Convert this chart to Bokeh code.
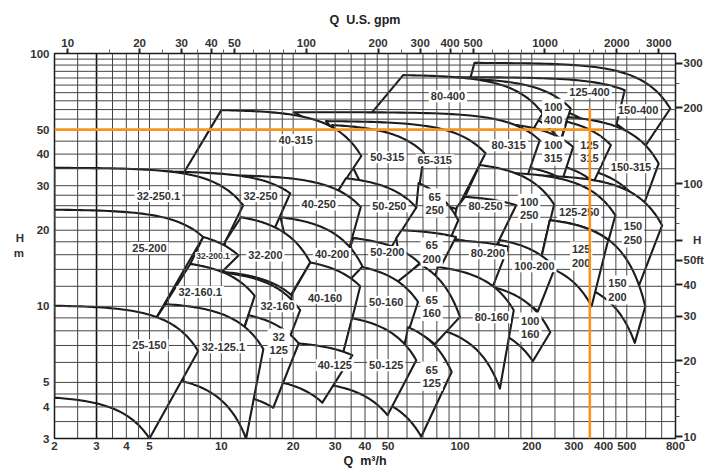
import numpy as np
from bokeh.plotting import figure
from bokeh.models import Range1d, LogScale, LogAxis, FixedTicker, PrintfTickFormatter
from bokeh.core.properties import value
from bokeh.embed import file_html
from bokeh.resources import INLINE

# ---------------------------------------------------------------------------
# Pump selection tiles (Q in m3/h, H in m).  Corners: top-left, top-right,
# bottom-right, bottom-left and an optional extra corner on the left side.
# List order = drawing order: upper families first and, inside a family,
# right to left, so the smaller pumps are painted over the larger ones.
# ---------------------------------------------------------------------------
tile_names = [
    "150-400", "125-400", "100-400", "80-400",
    "150-315", "125-315", "100-315", "80-315", "65-315", "50-315", "40-315",
    "150-250", "125-250", "100-250", "80-250", "65-250", "50-250", "40-250", "32-250", "32-250.1",
    "150-200", "125-200", "100-200", "80-200", "65-200", "50-200", "40-200", "32-200", "32-200.1", "25-200",
    "100-160", "80-160", "65-160", "50-160", "40-160", "32-160", "32-160.1",
    "65-125", "50-125", "40-125", "32-125", "32-125.1", "25-150",
]
tl_q = [115, 97.1, 116, 57.8,
        283, 280, 173, 20.1, 27.4, 29.1, 10,
        192.5, 142, 121, 105, 67.1, 33.3, 10.2, 4.74, 2,
        238, 238, 146, 86.4, 56.9, 35.7, 17.7, 12.1, 8.39, 2,
        138, 80.7, 67.8, 38.9, 23.6, 10.0, 7.41,
        60.5, 35.3, 21.1, 13.0, 5.83, 2]
tl_h = [91.8, 80.6, 79.1, 82.1,
        56.0, 53.7, 52.1, 58.6, 54.0, 52.1, 59.7,
        33.0, 33.9, 36.2, 27.1, 30.7, 32.1, 33.0, 34.2, 35.3,
        21.9, 21.9, 18.3, 18.3, 20.0, 18.6, 22.5, 22.5, 18.8, 24.1,
        11.9, 14.3, 14.7, 14.3, 14.9, 13.6, 14.7,
        8.27, 8.97, 7.13, 9.22, 10.2, 10.05]
tr_q = [761, 490, 291, 222,
        680, 429, 298, 216, 128, 70.7, 38.6,
        703, 448, 248, 172, 98.4, 65.6, 38.4, 19.45, 12.35,
        598, 418, 250, 159.5, 96.2, 67.8, 39.1, 23.6, 11.8, 8.39,
        239, 168, 100, 66.7, 38.2, 21.4, 13.8,
        92.3, 65.6, 35.4, 21.1, 15.0, 8.0]
tr_h = [60.6, 71.6, 60.6, 57.9,
        36.7, 43.4, 42.7, 45.4, 40.3, 40.4, 39.3,
        20.9, 22.9, 25.3, 25.1, 21.9, 24.6, 24.7, 28.0, 25.1,
        10.0, 18.3, 14.2, 17.2, 18.8, 14.8, 14.35, 14.9, 15.9, 18.8,
        7.89, 9.65, 9.08, 10.4, 12.0, 9.65, 11.0,
        5.5, 6.12, 6.40, 7.13, 6.77, 6.65]
br_q = [581, 426, 264, 197,
        581, 363, 269, 191.5, 97.1, 65.2, 28.2,
        553, 413, 220, 138, 90.7, 50.6, 34.0, 16.4, 9.9,
        540, 356, 212, 135, 77.7, 54.1, 34.3, 19.6, 10.0, 5.3,
        202, 147, 78.4, 58.4, 32.4, 19.3, 12.2,
        68.8, 49.7, 26.5, 16.5, 12.7, 5.0]
br_h = [41.4, 41.4, 45.0, 48.0,
        24.4, 31.0, 31.8, 32.7, 24.2, 23.3, 25.1,
        11.6, 17.3, 15.8, 16.4, 18.3, 16.7, 16.4, 19.5, 16.4,
        7.17, 10.0, 9.56, 11.5, 12.7, 12.2, 12.45, 11.1, 13.6, 8.89,
        6.06, 4.73, 7.08, 7.07, 6.45, 7.48, 7.75,
        3.05, 3.71, 4.16, 3.97, 3.0, 3.0]
bl_q = [103, 100, 105, 40.9,
        259, 259, 165, 64.5, 55.8, 39.7, 6.48,
        259, 223, 128, 90.7, 53.1, 29.7, 17.4, 11.2, 2,
        356, 251, 135, 78.4, 55.8, 35.9, 20.1, 10.0, 7.41, 2,
        154, 82.1, 55.8, 33.2, 18.2, 12.7, 5.3,
        51.1, 28.8, 17.9, 13.4, 6.95, 2]
bl_h = [62.4, 65.3, 63.6, 55.5,
        36.2, 36.2, 36.2, 33.0, 26.3, 28.8, 30.1,
        18.3, 17.9, 16.4, 18.6, 19.6, 19.1, 19.1, 19.1, 21.9,
        11.6, 13.9, 11.4, 14.3, 15.3, 14.5, 13.3, 13.7, 14.7, 9.5,
        7.68, 8.1, 8.34, 8.97, 7.15, 8.97, 8.89,
        4.06, 4.88, 5.0, 4.33, 5.04, 4.35]
# optional extra corner on the left side of a tile (None = straight left edge)
lm_q = [None, None, None, None,
        268, 268, None, None, None, None, None,
        None, None, 105, 97.1, 65.6, 31.0, None, None, None,
        220, 220, None, None, 54.1, 34.9, None, 10.4, None, None,
        None, 78.4, 54.7, 35.3, 19.8, None, None,
        58.8, 32.5, None, 12.35, 5.3, None]
lm_h = [None, None, None, None,
        46.8, 46.8, None, None, None, None, None,
        None, None, 27.1, 24.7, 24.6, 28.8, None, None, None,
        15.8, 15.8, None, None, 18.6, 17.4, None, 18.1, None, None,
        None, 13.0, 12.5, 13.0, 11.2, None, None,
        7.02, 6.62, None, 7.96, 8.89, None]

# Tile captions (centre position in Q, H)
label_text = ["80-400", "100\n400", "125-400", "150-400",
              "40-315", "50-315", "65-315", "80-315", "100\n315", "125\n315", "150-315",
              "32-250.1", "32-250", "40-250", "50-250", "65\n250", "80-250", "100\n250", "125-250", "150\n250",
              "25-200", "32-200", "40-200", "50-200", "65\n200", "80-200", "100-200", "125\n200", "150\n200",
              "32-160.1", "32-160", "40-160", "50-160", "65\n160", "80-160", "100\n160",
              "25-150", "32-125.1", "32\n125", "40-125", "50-125", "65\n125"]
label_q = [89, 246, 349, 558,
           20.5, 49.6, 78.4, 160, 246, 349, 521,
           5.45, 14.6, 25.6, 50.6, 78.4, 128, 195, 316, 531,
           5.0, 15.3, 29.1, 49.6, 76.1, 131, 205, 322, 457,
           8.15, 17.2, 27.2, 49.1, 76.1, 136, 197,
           5.0, 10.2, 17.4, 29.9, 49.1, 76.1]
label_h = [67.8, 58.0, 70.3, 59.7,
           45.4, 38.9, 37.8, 43.4, 41.1, 41.1, 35.5,
           27.3, 27.3, 25.3, 24.9, 25.6, 24.9, 24.4, 23.6, 19.5,
           17.0, 15.9, 16.1, 16.4, 16.4, 16.2, 14.4, 15.8, 11.6,
           11.4, 10.0, 10.8, 10.4, 10.0, 9.06, 8.27,
           7.02, 6.89, 7.15, 5.85, 5.85, 5.29]
small_label_text = ["32-200.1"]
small_label_q = [9.23]
small_label_h = [15.8]

# Grid values
grid_q = [2.5, 3.5, 4, 4.5, 5, 6, 7, 8, 9, 10, 12, 14, 16, 18, 20, 25, 30, 35, 40, 45,
          50, 60, 70, 80, 90, 100, 120, 140, 160, 180, 200, 250, 300, 350, 400, 450,
          500, 600, 700]
grid_h = [3.5, 4, 4.5, 5, 6, 7, 8, 9, 10, 12, 14, 16, 18, 20, 22.5, 25, 27.5, 30, 35,
          40, 45, 50, 55, 60, 65, 70, 75, 80, 85, 90, 95]

# Axis ticks
q_ticks = [2, 3, 4, 5, 10, 20, 30, 40, 50, 100, 200, 300, 400, 500, 800]
h_ticks = [3, 4, 5, 10, 20, 30, 40, 50, 100]
gpm_ticks = [10, 20, 30, 40, 50, 100, 200, 300, 400, 500, 1000, 2000, 3000]
gpm_minor = [15, 25, 35, 45, 60, 70, 80, 90, 150, 250, 350, 450, 600, 700, 800, 900,
             1200, 1400, 1600, 1800, 2500]
ft_ticks = [10, 20, 30, 40, 50, 60, 100, 200, 300]
ft_minor = [12, 14, 16, 18, 70, 80, 90, 150, 250]

NBSP = "\u00a0"
# Side titles: "H / m" beside the metre scale, "H / ft" beside the feet scale
left_title = {18.7: "H" + NBSP * 8, 16.3: "m" + NBSP * 8}
right_title = {60: NBSP * 3 + "H", 50: "50ft"}

# Duty point guide lines
duty_h = 50
duty_q = 350
duty_line_q_end = 400
duty_line_h_top = 61

Q_MIN, Q_MAX = 2, 800
H_MIN, H_MAX = 3, 100
M3H_TO_GPM = 4.40287
M_TO_FT = 1 / 0.3048


def pump_curve(q0, h0, q1, h1, n=40):
    """H = a - b*Q^3 through both end points."""
    b = (h0 - h1) / (q1 ** 3 - q0 ** 3)
    a = h0 + b * q0 ** 3
    q = np.geomspace(q0, q1, n)
    return q, a - b * q ** 3


xs, ys = [], []
for i in range(len(tile_names)):
    qu, hu = pump_curve(tl_q[i], tl_h[i], tr_q[i], tr_h[i])
    ql, hl = pump_curve(bl_q[i], bl_h[i], br_q[i], br_h[i])
    px = list(qu) + list(ql[::-1])
    py = list(hu) + list(hl[::-1])
    if lm_q[i] is not None:
        px.append(lm_q[i])
        py.append(lm_h[i])
    xs.append(px)
    ys.append(py)

FONT = "Liberation Sans"

p = figure(width=712, height=472, x_axis_type="log", y_axis_type="log",
           x_range=Range1d(Q_MIN, Q_MAX), y_range=Range1d(H_MIN, H_MAX),
           output_backend="svg", toolbar_location=None,
           min_border_left=54, min_border_right=37, min_border_top=53, min_border_bottom=34)
p.background_fill_color = "white"
p.border_fill_color = "white"
p.grid.visible = False
p.outline_line_color = "#1a1a1a"
p.outline_line_width = 1.5

# tiles (white filled, so later tiles hide the ones beneath)
p.patches(xs, ys, fill_color="white", line_color="#1c1c1c", line_width=2.1, line_join="round")

# grid on top of the tiles
p.segment(x0=grid_q, y0=[H_MIN] * len(grid_q), x1=grid_q, y1=[H_MAX] * len(grid_q),
          line_color="#454545", line_width=1)
p.segment(x0=[3], y0=[H_MIN], x1=[3], y1=[H_MAX], line_color="#111111", line_width=1.6)
p.segment(x0=[Q_MIN] * len(grid_h), y0=grid_h, x1=[Q_MAX] * len(grid_h), y1=grid_h,
          line_color="#454545", line_width=1)

# captions
p.text(x=label_q, y=label_h, text=label_text, text_align="center", text_baseline="middle",
       text_font=value(FONT), text_font_style="bold", text_font_size="11px",
       text_color="#333333", text_line_height=1.1,
       background_fill_color="white", padding=2)
p.text(x=small_label_q, y=small_label_h, text=small_label_text, text_align="center",
       text_baseline="middle", text_font=value(FONT), text_font_style="bold",
       text_font_size="8.5px", text_color="#333333",
       background_fill_color="white", padding=1)

# duty point lines
p.line([Q_MIN, duty_line_q_end], [duty_h, duty_h], line_color="#F7941D", line_width=2.6)
p.line([duty_q, duty_q], [H_MIN, duty_line_h_top], line_color="#F7941D", line_width=2.6)


# ---- axes ----
def style_labels(ax, size="11.5px"):
    ax.major_label_text_font = FONT
    ax.major_label_text_font_style = "bold"
    ax.major_label_text_font_size = size
    ax.major_label_text_color = "#333333"
    ax.axis_label_text_font = FONT
    ax.axis_label_text_font_style = "bold"
    ax.axis_label_text_font_size = "12.5px"
    ax.axis_label_text_color = "#222222"
    ax.axis_line_color = None


def no_ticks(ax):
    ax.major_tick_line_color = None
    ax.minor_tick_line_color = None
    ax.major_tick_out = 0
    ax.minor_tick_out = 0
    ax.major_tick_in = 0
    ax.minor_tick_in = 0


xa = p.xaxis[0]
xa.ticker = FixedTicker(ticks=q_ticks, minor_ticks=[])
xa.formatter = PrintfTickFormatter(format="%d")
no_ticks(xa)
xa.major_label_standoff = 3
xa.axis_label = "Q\u00a0\u00a0m\u00b3/h"
xa.axis_label_standoff = 1
style_labels(xa)

ya = p.yaxis[0]
ya.ticker = FixedTicker(ticks=h_ticks + list(left_title), minor_ticks=[])
ya.formatter = PrintfTickFormatter(format="%d")
ya.major_label_overrides = left_title
no_ticks(ya)
ya.major_label_standoff = 5
style_labels(ya)

p.extra_x_ranges = {"gpm": Range1d(Q_MIN * M3H_TO_GPM, Q_MAX * M3H_TO_GPM)}
p.extra_x_scales = {"gpm": LogScale()}
ta = LogAxis(x_range_name="gpm", ticker=FixedTicker(ticks=gpm_ticks, minor_ticks=gpm_minor),
             formatter=PrintfTickFormatter(format="%d"))
ta.axis_label = "Q\u00a0\u00a0U.S.\u00a0gpm"
ta.major_tick_out = 5
ta.major_tick_in = 0
ta.major_tick_line_width = 2
ta.major_tick_line_color = "#222222"
ta.minor_tick_out = 4
ta.minor_tick_in = 0
ta.minor_tick_line_color = "#666666"
ta.major_label_standoff = 2
ta.axis_label_standoff = 9
style_labels(ta)
p.add_layout(ta, "above")

p.extra_y_ranges = {"ft": Range1d(H_MIN * M_TO_FT, H_MAX * M_TO_FT)}
p.extra_y_scales = {"ft": LogScale()}
ra = LogAxis(y_range_name="ft", ticker=FixedTicker(ticks=ft_ticks, minor_ticks=ft_minor),
             formatter=PrintfTickFormatter(format="%d"),
             major_label_overrides=right_title)
ra.major_tick_out = 7
ra.major_tick_in = 0
ra.major_tick_line_width = 2
ra.major_tick_line_color = "#222222"
ra.minor_tick_out = 4
ra.minor_tick_in = 0
ra.minor_tick_line_color = "#555555"
ra.major_label_standoff = 1
style_labels(ra)
p.add_layout(ra, "right")

open("out.html", "w").write(file_html(p, INLINE))
